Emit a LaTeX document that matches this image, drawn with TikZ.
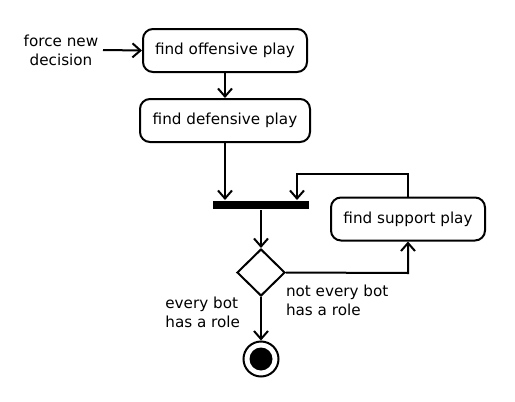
\documentclass[tikz,border=0pt]{standalone}
\usepackage{fontspec}
\setmainfont{DejaVu Sans}
\usetikzlibrary{arrows.meta,shapes.geometric}
\begin{document}
\begin{tikzpicture}[x=1pt,y=-1pt,
  line width=2pt,
  arr/.style={-{Straight Barb[length=8pt,width=14pt,line width=2pt]}},
  act/.style={draw,rounded corners=10pt,font=\fontsize{15.2}{17}\selectfont,inner sep=0pt},
  lbl/.style={font=\fontsize{15.2}{19}\selectfont,align=center,inner sep=0pt}]
\useasboundingbox (0,0) rectangle (515,402);
\node[act,minimum width=164pt,minimum height=43pt] (off) at (225,50.5) {find offensive play};
\node[act,minimum width=170pt,minimum height=43pt] (def) at (225,120.5) {find defensive play};
\node[act,minimum width=154pt,minimum height=43pt] (sup) at (408,219) {find support play};
\node[fill=black,draw=none,minimum width=96pt,minimum height=8pt,inner sep=0pt] (bar) at (261,205) {};
\node[draw,diamond,minimum width=48pt,minimum height=47pt,inner sep=0pt] (dec) at (261,272.5) {};
\node[draw,circle,minimum size=35pt,inner sep=0pt] (fin) at (261,359) {};
\node[fill=black,circle,minimum size=23pt,inner sep=0pt] (fini) at (261,359) {};
\node[lbl] (force) at (61,50) {force new\\decision};
\node[lbl,align=left,anchor=west] (nl) at (285,300.5) {not every bot\\has a role};
\node[lbl,align=left,anchor=east] (el) at (241,312.5) {every bot\\has a role};
\coordinate (c1) at (408,174);
\coordinate (c2) at (297,174);
\coordinate (c3) at (408,273);
\draw[arr] (force.east -| 103,50) -- (off.west);
\draw[arr] (off) -- (def);
\draw[arr] (def.south) -- (def.south |- bar.north);
\draw[arr] (sup.north) -- (c1) -- (c2) -- (c2 |- bar.north);
\draw[arr] (bar) -- (dec);
\draw[arr] (dec.east) -- (c3) -- (sup.south);
\draw[arr] (dec) -- (fin);
\end{tikzpicture}
\end{document}
